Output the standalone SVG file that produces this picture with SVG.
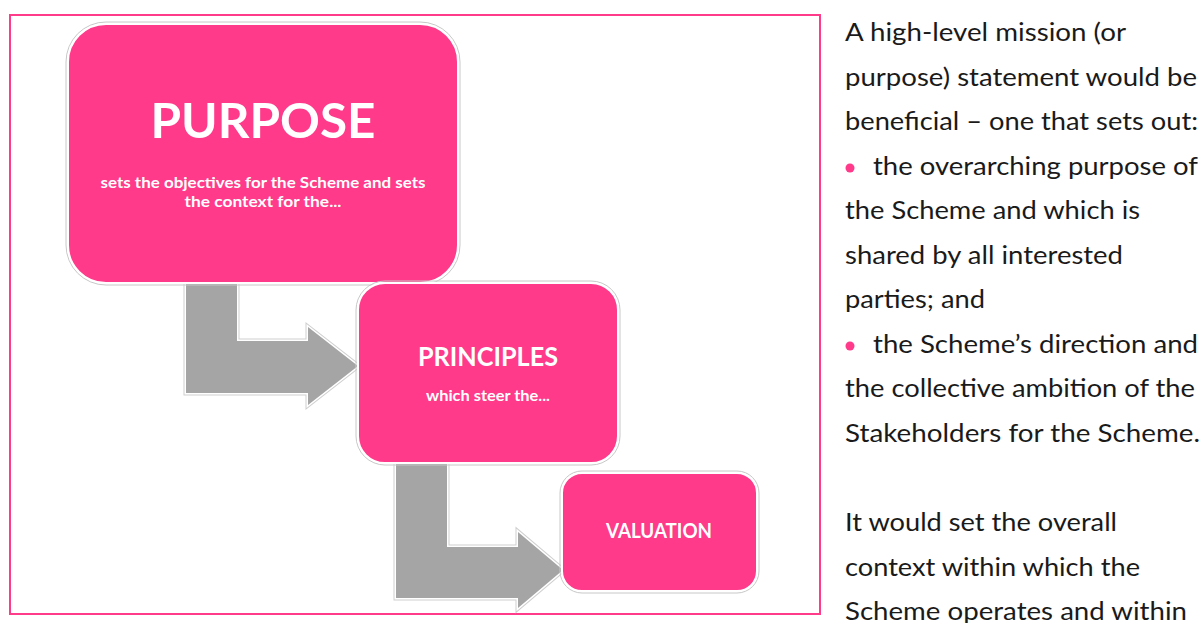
<svg xmlns="http://www.w3.org/2000/svg" width="1203" height="623" viewBox="0 0 1203 623">
<style>
.frame{fill:none;stroke:#FF3B8A;stroke-width:2}
.boxo{fill:none;stroke:#c8c8c8;stroke-width:1}
.box{fill:#FF3A8A;stroke:#ffffff;stroke-width:2}
.t{font-family:Lato,"Open Sans",sans-serif;font-weight:bold;fill:#ffffff;text-anchor:middle}
.a1{fill:none;stroke:#cfcfcf;stroke-width:5;stroke-linejoin:miter}
.a2{fill:none;stroke:#ffffff;stroke-width:3;stroke-linejoin:miter}
.a3{fill:#A5A5A5;stroke:none}
.body{font-family:Lato,"Open Sans",sans-serif;font-size:25px;fill:#1a1a1a}
.dot{fill:#FF3A8A}
</style>
<rect width="1203" height="623" fill="#ffffff"/>
<rect class="frame" x="10" y="15" width="810" height="599"/>
<g id="connectors">
<g id="arrow1">
<path class="a1" d="M186,284 H237 V341 H308 V327 L358,366 L308,405 V393 H186 Z"/>
<path class="a2" d="M186,284 H237 V341 H308 V327 L358,366 L308,405 V393 H186 Z"/>
<path class="a3" d="M186,284 H237 V341 H308 V327 L358,366 L308,405 V393 H186 Z"/>
</g>
<g id="arrow2">
<path class="a1" d="M396,464 H447 V547 H518 V532 L563,570 L518,608 V598 H396 Z"/>
<path class="a2" d="M396,464 H447 V547 H518 V532 L563,570 L518,608 V598 H396 Z"/>
<path class="a3" d="M396,464 H447 V547 H518 V532 L563,570 L518,608 V598 H396 Z"/>
</g>
</g>
<g id="purpose">
<rect class="boxo" x="66" y="22" width="394" height="263" rx="40"/>
<rect class="box" x="68" y="24" width="390" height="259" rx="38"/>
<text class="t" x="263" y="138" font-size="48" textLength="225" lengthAdjust="spacingAndGlyphs">PURPOSE</text>
<text class="t" x="263" y="188" font-size="14.5" textLength="325" lengthAdjust="spacingAndGlyphs">sets the objectives for the Scheme and sets</text>
<text class="t" x="263" y="207" font-size="14.5" textLength="157" lengthAdjust="spacingAndGlyphs">the context for the...</text>
</g>
<g id="principles">
<rect class="boxo" x="356" y="281" width="264" height="184" rx="29"/>
<rect class="box" x="358" y="283" width="260" height="180" rx="27"/>
<text class="t" x="488" y="366" font-size="26" textLength="140" lengthAdjust="spacingAndGlyphs">PRINCIPLES</text>
<text class="t" x="488" y="401" font-size="15" textLength="124" lengthAdjust="spacingAndGlyphs">which steer the...</text>
</g>
<g id="valuation">
<rect class="boxo" x="560" y="471" width="199" height="122" rx="22"/>
<rect class="box" x="562" y="473" width="195" height="118" rx="20"/>
<text class="t" x="659" y="538" font-size="21" textLength="106" lengthAdjust="spacingAndGlyphs">VALUATION</text>
</g>
<g id="description">
<text class="body" x="845" y="41" textLength="281" lengthAdjust="spacingAndGlyphs">A high-level mission (or</text>
<text class="body" x="845" y="86" textLength="352" lengthAdjust="spacingAndGlyphs">purpose) statement would be</text>
<text class="body" x="845" y="130" textLength="353" lengthAdjust="spacingAndGlyphs">beneficial – one that sets out:</text>
<circle class="dot" cx="850" cy="168" r="4.5"/>
<text class="body" x="873" y="175" textLength="325" lengthAdjust="spacingAndGlyphs">the overarching purpose of</text>
<text class="body" x="845" y="219" textLength="295" lengthAdjust="spacingAndGlyphs">the Scheme and which is</text>
<text class="body" x="845" y="264" textLength="278" lengthAdjust="spacingAndGlyphs">shared by all interested</text>
<text class="body" x="845" y="308" textLength="140" lengthAdjust="spacingAndGlyphs">parties; and</text>
<circle class="dot" cx="850" cy="346" r="4.5"/>
<text class="body" x="873" y="353" textLength="325" lengthAdjust="spacingAndGlyphs">the Scheme’s direction and</text>
<text class="body" x="845" y="397" textLength="350" lengthAdjust="spacingAndGlyphs">the collective ambition of the</text>
<text class="body" x="845" y="442" textLength="355" lengthAdjust="spacingAndGlyphs">Stakeholders for the Scheme.</text>
<text class="body" x="845" y="531" textLength="272" lengthAdjust="spacingAndGlyphs">It would set the overall</text>
<text class="body" x="845" y="576" textLength="295" lengthAdjust="spacingAndGlyphs">context within which the</text>
<text class="body" x="845" y="620" textLength="342" lengthAdjust="spacingAndGlyphs">Scheme operates and within</text>
</g>
</svg>
